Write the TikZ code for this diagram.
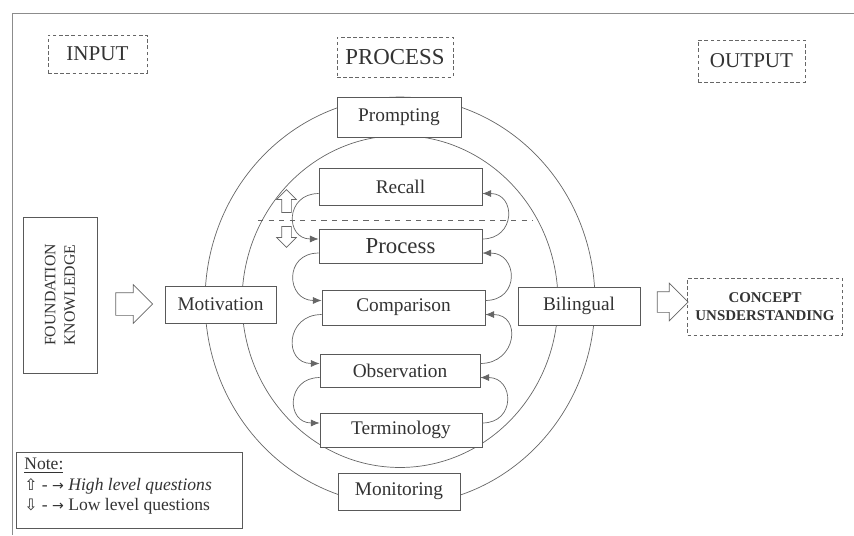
\documentclass[tikz,border=0pt]{standalone}
\usepackage{fontspec}
\setmainfont{Liberation Serif}
\newfontfamily\symfont{DejaVu Sans}
\usetikzlibrary{arrows.meta,shapes.arrows}

\begin{document}
\begin{tikzpicture}[x=0.02cm,y=-0.02cm,
  box/.style={draw=black!65,fill=white,text=black!80,inner sep=0pt,
    font=\fontsize{11}{13}\selectfont},
  dashbox/.style={draw=black!60,dash pattern=on 2pt off 1.5pt,text=black!80,
    inner sep=0pt,align=center},
  curvearrow/.style={draw=black!60,-{Latex[length=5pt,width=4pt]},looseness=1.9},
  blockarrow/.style={single arrow,draw=black!60,fill=white,inner sep=0pt}]
\useasboundingbox (0,0) rectangle (854,535);
\draw[black!45] (854,13) -- (12,13) -- (12,535);

% headings
\node[dashbox,minimum width=1.98cm,minimum height=0.76cm,font=\fontsize{12}{14}\selectfont] (input) at (97.5,54) {INPUT};
\node[dashbox,minimum width=2.32cm,minimum height=0.8cm,font=\fontsize{13}{15}\selectfont] (process) at (395,57) {PROCESS};
\node[dashbox,minimum width=2.14cm,minimum height=0.84cm,font=\fontsize{12}{14}\selectfont] (output) at (751.5,61) {OUTPUT};

% the two rings
\draw[black!60] (400,301) ellipse [x radius=3.9cm,y radius=4.08cm];
\draw[black!60] (400,301.5) ellipse [x radius=3.16cm,y radius=3.32cm];
\draw[black!60,dashed] (258,220) -- (533,220);

\node[box,minimum width=2.48cm,minimum height=0.8cm] (prompting) at (399,117) {Prompting};
\node[box,minimum width=2.44cm,minimum height=0.74cm] (monitoring) at (399,491.5) {Monitoring};
\node[box,minimum width=2.22cm,minimum height=0.74cm] (motivation) at (220.5,304.5) {Motivation};
\node[box,minimum width=2.44cm,minimum height=0.76cm] (bilingual) at (579,306) {Bilingual};

\node[box,minimum width=3.26cm,minimum height=0.74cm] (recall) at (400.5,186.5) {Recall};
\node[box,minimum width=3.26cm,minimum height=0.68cm,font=\fontsize{13}{15}\selectfont] (proc) at (400.5,246) {Process};
\node[box,minimum width=3.26cm,minimum height=0.7cm] (comparison) at (403.5,307.5) {Comparison};
\node[box,minimum width=3.2cm,minimum height=0.66cm] (observation) at (400,370.5) {Observation};
\node[box,minimum width=3.24cm,minimum height=0.68cm] (terminology) at (401,430) {Terminology};

\foreach \a/\b in {recall/proc,proc/comparison,comparison/observation,observation/terminology}{
  \draw[curvearrow] ([yshift=-4pt]\a.west) to[out=180,in=180] ([yshift=4pt]\b.west);
  \draw[curvearrow] ([yshift=4pt]\b.east) to[out=0,in=0] ([yshift=-4pt]\a.east);
}

% question levels
\node[blockarrow,rotate=90,minimum height=0.46cm,inner ysep=0.09cm,single arrow head extend=0.1cm] (up) at (286.5,203.5) {};
\node[blockarrow,rotate=-90,minimum height=0.42cm,inner ysep=0.09cm,single arrow head extend=0.1cm] (down) at (286.5,234.5) {};

% input and output
\node[box,rotate=90,minimum width=3.12cm,minimum height=1.48cm,align=center,font=\fontsize{9}{11}\selectfont] (foundation) at (60,295) {FOUNDATION\\KNOWLEDGE};
\node[blockarrow,minimum height=0.74cm,inner ysep=0.22cm,single arrow head extend=0.16cm] (arrowin) at (128.5,304) {};
\node[blockarrow,minimum height=0.62cm,inner ysep=0.2cm,single arrow head extend=0.17cm] (arrowout) at (667.5,302) {};
\node[dashbox,minimum width=3.1cm,minimum height=1.14cm,font=\bfseries\fontsize{8.5}{10.5}\selectfont] (concept) at (765,306.5) {CONCEPT\\UNSDERSTANDING};

% legend
\node[box,minimum width=4.52cm,minimum height=1.52cm] (note) at (129,490) {};
\node[anchor=north west,align=left,inner sep=0pt,text=black!80,font=\fontsize{10}{11.5}\selectfont] (notetext) at (24,458)
  {\underline{Note:}\\ {\symfont\small ⇧} - {\symfont\footnotesize →} \textit{High level questions}\\ {\symfont\small ⇩} - {\symfont\footnotesize →} Low level questions};
\end{tikzpicture}
\end{document}
